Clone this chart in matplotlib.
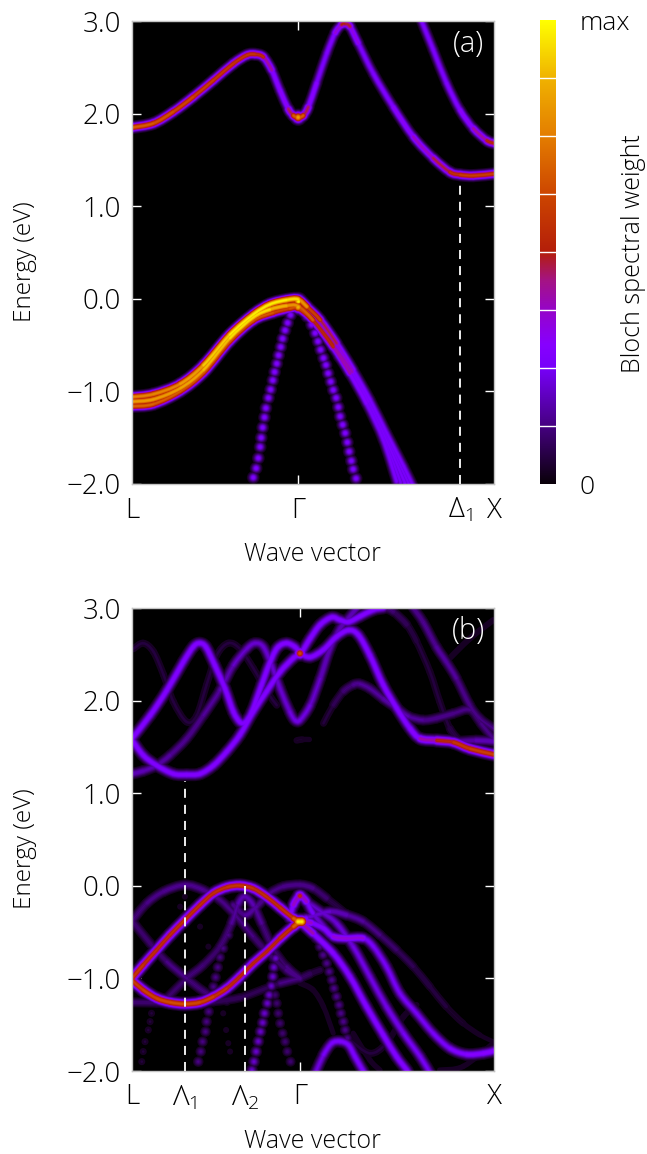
import numpy as np
import matplotlib
matplotlib.use('Agg')
import matplotlib.pyplot as plt
from matplotlib.collections import PathCollection
from matplotlib.colors import LinearSegmentedColormap
from matplotlib.path import Path

plt.rcParams['font.family'] = ['Open Sans', 'DejaVu Sans']
plt.rcParams['font.weight'] = 'light'
plt.rcParams['axes.labelweight'] = 'light'
plt.rcParams['mathtext.fontset'] = 'custom'
plt.rcParams['mathtext.rm'] = 'Open Sans:light'

# k is percent of the L-X path, e is energy in eV, w is spectral weight (0-1)
# panel (a)
a1_k = [0, 5.9, 11.4, 16.9, 22.5, 28.0, 31.7, 34.0, 36.3, 38.6, 40.9, 43.2, 44.6, 45.9, 47.3, 48.7, 51.0, 53.8, 56.1, 57.9, 58.8, 60.2, 62.5, 66.7, 72.2, 77.7, 83.2, 87.8, 90.6, 94.3, 100]
a1_e = [1.85, 1.895, 2.02, 2.18, 2.36, 2.54, 2.63, 2.64, 2.61, 2.47, 2.25, 2.05, 1.98, 1.96, 1.98, 2.07, 2.33, 2.65, 2.87, 2.96, 2.97, 2.94, 2.76, 2.43, 2.07, 1.75, 1.52, 1.37, 1.34, 1.33, 1.35]
a1_w = [.7, .68, .66, .62, .6, .58, .58, .6, .52, .34, .3, .36, .6, .78, .6, .36, .28, .28, .3, .45, .58, .42, .28, .28, .3, .36, .44, .54, .6, .62, .6]
a2_k = [80, 83.2, 86.9, 90.6, 94.3, 98, 100]
a2_e = [3.0, 2.69, 2.33, 2.04, 1.84, 1.71, 1.68]
a2_w = [.28, .28, .28, .3, .36, .5, .58]
v1_k = [0, 5.9, 13.3, 19.7, 27, 33.5, 38.1, 42.7, 45.9, 48.3, 52, 56.5, 61.1, 65.7, 70.3, 75, 77.7]
v1_e = [-1.06, -1.03, -.92, -.72, -.39, -.17, -.06, -.013, -.006, -.085, -.23, -.48, -.77, -1.09, -1.45, -1.81, -2.03]
v1_w = [.78, .78, .8, .9, .98, 1, 1, 1, .95, .7, .55, .42, .3, .28, .28, .28, .28]
v2_k = [0, 5.9, 13.3, 19.7, 27, 33.5, 38.1, 42.7, 45.9, 50, 55.6, 60.2, 64.8, 69.4, 73.1]
v2_e = [-1.11, -1.086, -.967, -.77, -.427, -.2, -.115, -.075, -.08, -.23, -.52, -.805, -1.13, -1.52, -1.97]
v2_w = [.85, .84, .84, .88, .95, 1, .95, .85, .8, .6, .5, .34, .28, .28, .28]
v3_k = [0, 5.9, 13.3, 19.7, 27, 33.5, 39, 43.6, 45.9, 50, 55.6, 60.8, 65.3, 69.9, 75.4]
v3_e = [-1.16, -1.137, -1.0, -.80, -.46, -.235, -.15, -.105, -.10, -.23, -.50, -.79, -1.11, -1.49, -1.99]
v3_w = [.72, .7, .68, .68, .7, .7, .66, .6, .75, .55, .5, .32, .28, .28, .28]
v4_k = [57, 60.7, 65, 69.6, 74.2]
v4_e = [-.62, -.8, -1.12, -1.505, -1.98]
v4_w = [.3, .28, .27, .27, .27]
v5_k = [58, 61.0, 65.5, 70.1, 76.5]
v5_e = [-.64, -.78, -1.10, -1.47, -2.0]
v5_w = [.3, .28, .27, .27, .27]
# dotted bands, one mark per k point
a_dots1_k = [33.5, 34.3, 34.9, 35.4, 35.7, 36.1, 36.6, 37.0, 37.7, 38.3, 38.9, 39.4, 40.0, 40.5, 41.1, 41.6, 42.3, 43.0, 43.8]
a_dots1_e = [-1.93, -1.83, -1.72, -1.60, -1.50, -1.39, -1.28, -1.18, -1.07, -.98, -.88, -.79, -.70, -.61, -.52, -.43, -.34, -.26, -.175]
a_dots2_k = [61.9, 61.1, 60.6, 60.0, 59.5, 58.9, 58.2, 57.5, 57.0, 56.4, 55.6, 54.9, 54.2, 53.6, 52.9, 52.1, 51.4, 50.6, 49.6, 48.3]
a_dots2_e = [-1.94, -1.84, -1.75, -1.65, -1.55, -1.45, -1.36, -1.27, -1.17, -1.07, -.985, -.895, -.805, -.715, -.64, -.55, -.46, -.37, -.28, -.19]
a_spots_k = [45.9, 45.9, 45.9]
a_spots_e = [1.96, -.02, -.09]
a_spots_w = [.85, 1.0, .9]

# panel (b), upper bands
b1_k = [0, 5.0, 9.6, 14.2, 16.9, 18.6, 20.4, 22.9, 25.7, 28.0, 29.8, 31.2, 33.1, 35.8, 38.6, 40.4, 42.7, 45.0, 46.6, 49.2, 52.9, 56.5, 59.8, 62.5, 65.7, 69.4, 73.1, 76.8, 79.6, 84.2, 88.8, 93.4, 99.8]
b1_e = [1.59, 1.84, 2.11, 2.42, 2.58, 2.62, 2.58, 2.38, 2.13, 1.88, 1.77, 1.765, 1.88, 2.17, 2.46, 2.58, 2.62, 2.58, 2.51, 2.47, 2.55, 2.69, 2.76, 2.71, 2.49, 2.17, 1.92, 1.70, 1.59, 1.57, 1.55, 1.48, 1.42]
b1_w = [.3] * 24 + [.3, .3, .3, .3, .34, .5, .58, .62, .62]
b2_k = [0, 3.1, 6.8, 11.4, 15.1, 18.8, 22.5, 26.2, 29.8, 33.5, 37.2, 40.9, 44.6, 46.6, 49.2, 52.0, 55.2, 57.5, 59.8, 63.0, 66.7, 69.4]
b2_e = [1.575, 1.41, 1.30, 1.21, 1.20, 1.21, 1.30, 1.45, 1.63, 1.88, 2.10, 2.31, 2.46, 2.51, 2.67, 2.82, 2.90, 2.87, 2.85, 2.91, 2.98, 3.0]
b2_w = [.3] * 22
b3_k = [0, 3.1, 6.8, 10.5, 15.1, 19.7, 24.3, 28.0, 31.7, 34.0, 36.3, 38.6, 40.9, 43.6, 45.0, 46.4, 49.2, 52.0, 54.7, 57.5, 59.8, 62.1]
b3_e = [1.21, 1.24, 1.30, 1.41, 1.59, 1.84, 2.11, 2.38, 2.56, 2.62, 2.58, 2.38, 2.13, 1.88, 1.79, 1.79, 1.95, 2.24, 2.56, 2.78, 2.89, 3.0]
b3_w = [.2, .2, .18, .16, .15, .15, .17, .2, .22, .22, .22, .22, .22, .22, .25, .25, .22, .2, .2, .2, .2, .2]
b4_k = [.4, 3.1, 5.9, 8.7, 11.4, 15.1, 17.9, 20.6, 23.4, 26.6, 29.8, 33.5, 37.2, 40]
b4_e = [2.56, 2.62, 2.53, 2.28, 1.99, 1.77, 1.84, 2.17, 2.49, 2.62, 2.56, 2.35, 2.10, 1.95]
b4_w = [.06] * 14
b5_k = [77.7, 80.4, 84.1, 86.8, 89.6, 93.3, 96.0, 99.8]
b5_e = [3.0, 2.85, 2.58, 2.42, 2.24, 1.95, 1.81, 1.70]
b5_w = [.15, .15, .16, .18, .15, .14, .14, .13]
b6_k = [70, 72.2, 75.9, 78.6, 82.3, 85, 87.8, 90.6]
b6_e = [3.0, 2.96, 2.82, 2.64, 2.31, 1.99, 1.70, 1.56]
b6_w = [.14, .12, .08, .06, .06, .06, .06, .1]
b7_k = [52.9, 55.6, 58.4, 61.1, 62.9, 65.7, 69.4, 73.1, 76.3, 80.4, 84.1, 88.7, 93.3, 96.5, 99.8]
b7_e = [1.755, 1.95, 2.10, 2.17, 2.18, 2.13, 2.02, 1.92, 1.83, 1.79, 1.81, 1.86, 1.90, 1.75, 1.59]
b7_w = [.05, .07, .11, .15, .16, .16, .16, .2, .17, .15, .15, .15, .13, .13, .15]
b8_k = [86.8, 93.3, 99.8]
b8_e = [2.42, 2.67, 2.87]
b8_w = [.05, .05, .05]
b9_k = [84.2, 90, 95, 99.8]
b9_e = [1.57, 1.56, 1.57, 1.56]
b9_w = [.12, .15, .2, .2]
b10_k = [45.5, 47, 49]
b10_e = [1.57, 1.58, 1.58]
b10_w = [.05, .06, .03]

# panel (b), lower bands
c1_k = [0, 3.1, 6.8, 10.5, 14.6, 18.8, 22.5, 26.2, 29.8, 33.5, 37.2, 40.9, 44.6, 46.4]
c1_e = [-1.0, -.855, -.693, -.531, -.369, -.207, -.081, -.016, .002, -.03, -.12, -.235, -.351, -.387]
c1_w = [.6, .58, .55, .56, .56, .56, .56, .58, .6, .58, .56, .56, .6, .8]
c2_k = [0, 3.1, 6.8, 10.5, 14.6, 18.8, 22.5, 26.2, 29.8, 33.5, 37.2, 40.9, 44.6, 46.4]
c2_e = [-1.02, -1.125, -1.215, -1.258, -1.276, -1.258, -1.197, -1.107, -.981, -.837, -.711, -.567, -.441, -.387]
c2_w = [.6, .62, .64, .66, .66, .64, .6, .56, .54, .54, .54, .54, .6, .8]
c3_k = [.2, 4.1, 8.7, 14.6, 19.7, 24.3, 28.9, 33.5, 38.1, 42.7, 46.4]
c3_e = [-.369, -.189, -.063, .009, -.045, -.153, -.333, -.549, -.747, -.909, -1.0]
c3_w = [.12, .14, .15, .16, .15, .14, .14, .13, .12, .12, .18]
c4_k = [.2, 5, 9.6, 15.1, 20.6, 26.2]
c4_e = [-.387, -.621, -.819, -1.0, -1.16, -1.25]
c4_w = [.12, .12, .12, .16, .1, .07]
c5_k = [0, 6.8, 14.6, 22.5, 29.8, 36.3, 40.9, 46.4]
c5_e = [-1.258, -1.262, -1.262, -1.25, -1.208, -1.118, -1.053, -1.0]
c5_w = [.12, .12, .12, .11, .09, .09, .09, .18]
c6_k = [9.6, 15.1, 19.7, 24.3, 27.5, 29.4, 31.2, 33.5, 35.8, 39, 42.7, 46.4]
c6_e = [-1.215, -1.0, -.855, -.657, -.405, -.189, -.117, -.207, -.405, -.675, -.873, -1.0]
c6_w = [.09, .14, .12, .12, .14, .18, .2, .18, .14, .12, .1, .18]
c7_k = [28, 31.2, 34.4, 38.1, 41.8, 46.4, 50, 53.8, 58.4]
c7_e = [-.207, -.315, -.225, -.081, -.009, .01, -.027, -.135, -.279]
c7_w = [.12, .18, .16, .14, .14, .16, .14, .1, .06]
c8_k = [43.6, 44.6, 46.4, 48.2, 50, 52.9]
c8_e = [-.35, -.207, -.11, -.171, -.297, -.441]
c8_w = [.3, .3, .5, .3, .25, .2]
d1_k = [46.4, 49.5, 52.9, 55.6, 59.3, 63.9, 66.7, 70.3, 74, 78.6, 83.2, 87.8, 92.4, 97, 99.8]
d1_e = [-.387, -.40, -.459, -.549, -.567, -.567, -.657, -.873, -1.161, -1.377, -1.593, -1.755, -1.82, -1.809, -1.784]
d1_w = [.5, .3, .3, .3, .45, .28, .26, .26, .26, .26, .26, .28, .3, .32, .32]
d2_k = [46.4, 50, 55.6, 60.2, 64.8, 69.4, 73.1, 75.9, 76.3]
d2_e = [-.387, -.513, -.729, -.981, -1.305, -1.611, -1.845, -1.99, -2.03]
d2_w = [.5, .33, .3, .3, .3, .3, .3, .3, .3]
d3_k = [48.2, 52.9, 56.5, 61.1, 65.7, 70.3, 75, 79.6, 82.3]
d3_e = [-.171, -.297, -.405, -.657, -.981, -1.305, -1.593, -1.845, -2.02]
d3_w = [.2, .22, .22, .24, .24, .24, .26, .26, .26]
d4_k = [46.4, 48.1, 54.7, 59.3, 63.9, 68.5, 73.1, 77.7, 82.3, 86.8, 91.5, 96.1, 99.8]
d4_e = [-.387, -.35, -.279, -.315, -.387, -.531, -.693, -.873, -1.089, -1.305, -1.485, -1.611, -1.683]
d4_w = [.4, .22, .22, .18, .15, .13, .1, .08, .07, .06, .05, .04, .04]
e1_k = [50.5, 51, 52.9, 55.2, 57.5, 59.8, 61.6, 63.7, 64.2]
e1_e = [-2.03, -1.99, -1.827, -1.7, -1.68, -1.72, -1.845, -1.99, -2.03]
e1_w = [.22, .22, .25, .28, .28, .28, .28, .28, .28]
f1_k = [46.4, 50, 52.9, 55.6]
f1_e = [-1.05, -1.125, -1.305, -1.593]
f1_w = [.05, .045, .045, .04]
f2_k = [46.4, 49.2, 52]
f2_e = [-1.0, -.95, -.91]
f2_w = [.12, .09, .06]
f3_k = [60.2, 65.7, 70.3, 75, 78.6]
f3_e = [-1.665, -1.809, -1.7, -1.413, -1.287]
f3_w = [.05, .07, .05, .05, .05]
f4_k = [61.1, 65.7, 68.5]
f4_e = [-1.593, -1.88, -1.99]
f4_w = [.045, .045, .045]
f5_k = [85, 91.5, 99.8]
f5_e = [-1.99, -1.95, -1.7]
f5_w = [.045, .045, .045]

b_dots1_k = [33.1, 33.7, 34.3, 34.9, 35.5, 36.1, 36.6, 37.4, 37.9, 38.5, 38.9, 39.2, 39.7]
b_dots1_e = [-1.99, -1.899, -1.79, -1.68, -1.575, -1.478, -1.377, -1.269, -1.179, -1.082, -.981, -.88, -.783]
b_dots2_k = [18.3, 19, 19.5, 20.3, 20.6, 21.2, 22.5, 23.1, 23.7, 24.3, 25.2, 26.6]
b_dots2_e = [-1.899, -1.79, -1.683, -1.575, -1.467, -1.359, -1.089, -.988, -.88, -.772, -.675, -.531]
b_dots3_k = [43.8, 42.9, 42.3, 41.6, 40.9, 40.4, 40, 39.5]
b_dots3_e = [-1.899, -1.79, -1.683, -1.593, -1.485, -1.377, -1.269, -1.179]
b_dots4_k = [49.6, 50.8, 51.9, 52.8, 53.8, 54.5, 55.2, 55.8, 56.5, 57.2, 57.7, 58.4, 58.9, 59.5]
b_dots4_e = [-.477, -.567, -.657, -.747, -.837, -.927, -1.017, -1.107, -1.197, -1.287, -1.377, -1.467, -1.557, -1.647]
b_dots5_k = [2.7, 3.1, 3.6, 4.5, 5, 5.4]
b_dots5_e = [-1.899, -1.79, -1.683, -1.557, -1.467, -1.377]
b_dots6_k = [25.2, 26, 26.6, 27.1]
b_dots6_e = [-1.377, -1.557, -1.7, -1.79]
b_dots7_k = [11.4, 13.3, 14.6, 16.9, 18.8, 21.1]
b_dots7_e = [-.477, -.225, -.117, -.225, -.441, -.657]
b_spots_k = [46.4, 45.9, 46.4, 46.9, 46.4]
b_spots_e = [2.51, -.387, -.387, -.387, -.11]
b_spots_w = [.66, 1.0, 1.0, 1.0, .55]

cmap_pos = [0, .125, .25, .3, .375, .44, .5, .625, .75, .875, 1]
cmap_rgb = [(10, 0, 10), (70, 0, 130), (120, 0, 250), (135, 0, 255), (150, 5, 200), (165, 20, 130),
            (180, 30, 10), (205, 70, 0), (228, 125, 0), (240, 178, 0), (255, 255, 0)]
spectral = LinearSegmentedColormap.from_list(
    'spectral', [(p, tuple(c / 255 for c in rgb)) for p, rgb in zip(cmap_pos, cmap_rgb)])

levels = np.linspace(.03, 1, 40)
PX = 0.72  # points per pixel at dpi 100


def half_width(weight, level, sigma):
    return sigma * np.sqrt(2 * np.log(weight / level))


def band_segments(k, e, w):
    # one bezier per pair of read points, so widths and colours can change along the band
    pts = np.column_stack([k, e])
    n = len(pts)
    segs = []
    for i in range(n - 1):
        p0, p1, p2, p3 = pts[max(i - 1, 0)], pts[i], pts[i + 1], pts[min(i + 2, n - 1)]
        c1 = p1 + (p2 - p0) / 6
        c2 = p2 - (p3 - p1) / 6
        path = Path([p1, c1, c2, p2], [Path.MOVETO, Path.CURVE4, Path.CURVE4, Path.CURVE4])
        segs.append((path, (w[i] + w[i + 1]) / 2))
    return segs


def draw_weight(ax, bands, dots, spots, sigma):
    # painted from faint to strong so the brightest value wins at every pixel
    segs = []
    for k, e, w in bands:
        segs += band_segments(k, e, w)
    marks = [(k, e, w, 3.0) for k, e, w in dots] + [(spots[0], spots[1], spots[2], 3.4)]
    for z, level in enumerate(levels):
        color = spectral(level)
        paths = [p for p, w in segs if w > level]
        widths = [2 * half_width(w, level, sigma) * PX for p, w in segs if w > level]
        if paths:
            coll = PathCollection(paths, facecolors='none', edgecolors=[color], linewidths=widths,
                                  capstyle='round', transform=ax.transData, zorder=2 + z * .01)
            ax.add_collection(coll, autolim=False)
        for k, e, w, s in marks:
            k, e, w = np.asarray(k), np.asarray(e), np.asarray(w)
            on = w > level
            if on.any():
                sizes = (2 * half_width(w[on], level, s) * PX) ** 2
                ax.scatter(k[on], e[on], s=sizes, color=[color], linewidths=0, zorder=2 + z * .01 + .001)


def setup_axes(ax, ticks, labels, gamma, label):
    ax.set_facecolor('black')
    ax.set_xlim(0, 100)
    ax.set_ylim(-2, 3)
    ax.set_yticks([-2, -1, 0, 1, 2, 3])
    ax.set_yticklabels(['\u22122.0', '\u22121.0', '0.0', '1.0', '2.0', '3.0'], fontsize=20)
    ax.set_xticks(ticks)
    ax.set_xticklabels(labels, fontsize=20)
    ax.tick_params(axis='y', direction='in', color='white', length=6.5, width=1, left=True, right=True, pad=8)
    ax.tick_params(axis='x', direction='in', color='white', length=6.5, width=1, top=True, bottom=True, pad=9)
    for t, pos in zip(ax.xaxis.get_major_ticks(), ticks):
        t.tick1line.set_visible(pos == gamma)
        t.tick2line.set_visible(pos == gamma)
    for s in ax.spines.values():
        s.set_color('#c4c4c4')
        s.set_linewidth(1)
    ax.set_xlabel('Wave vector', fontsize=18, va='center')
    ax.xaxis.set_label_coords(.5, -.153)
    ax.set_ylabel('Energy (eV)', fontsize=17.5, va='center')
    ax.yaxis.set_label_coords(-.295, .48)
    ax.text(.93, .95, label, transform=ax.transAxes, color='white', fontsize=21, ha='center', va='center', zorder=10)


def dashed(ax, k, top):
    ax.plot([k, k], [-2, top], color='white', lw=1.3, dashes=(5, 3.9), zorder=8)


fig = plt.figure(figsize=(6.47, 11.54), dpi=100)
ax_a = fig.add_axes([132 / 647, 1 - 484 / 1154, 362 / 647, 463 / 1154])
ax_b = fig.add_axes([132 / 647, 1 - 1071 / 1154, 362 / 647, 463 / 1154])

setup_axes(ax_a, [0, 45.9, 90.6, 100], ['L', '\u0393', '$\\mathregular{\u0394_1}$', 'X'], 45.9, '(a)')
draw_weight(ax_a,
            [(a1_k, a1_e, a1_w), (a2_k, a2_e, a2_w), (v3_k, v3_e, v3_w), (v2_k, v2_e, v2_w), (v1_k, v1_e, v1_w),
             (v4_k, v4_e, v4_w), (v5_k, v5_e, v5_w)],
            [(a_dots1_k, a_dots1_e, [.3] * len(a_dots1_k)), (a_dots2_k, a_dots2_e, [.3] * len(a_dots2_k))],
            (a_spots_k, a_spots_e, a_spots_w),
            2.7)
dashed(ax_a, 90.6, 1.28)

setup_axes(ax_b, [0, 14.6, 31.2, 46.4, 100],
           ['L', '$\\mathregular{\u039b_1}$', '$\\mathregular{\u039b_2}$', '\u0393', 'X'], 46.4, '(b)')
draw_weight(ax_b,
            [(b1_k, b1_e, b1_w), (b2_k, b2_e, b2_w), (b3_k, b3_e, b3_w), (b4_k, b4_e, b4_w), (b5_k, b5_e, b5_w),
             (b6_k, b6_e, b6_w), (b7_k, b7_e, b7_w), (b8_k, b8_e, b8_w), (b9_k, b9_e, b9_w), (b10_k, b10_e, b10_w),
             (c1_k, c1_e, c1_w), (c2_k, c2_e, c2_w), (c3_k, c3_e, c3_w), (c4_k, c4_e, c4_w), (c5_k, c5_e, c5_w),
             (c6_k, c6_e, c6_w), (c7_k, c7_e, c7_w), (c8_k, c8_e, c8_w), (d1_k, d1_e, d1_w), (d2_k, d2_e, d2_w),
             (d3_k, d3_e, d3_w), (d4_k, d4_e, d4_w), (e1_k, e1_e, e1_w), (f1_k, f1_e, f1_w), (f2_k, f2_e, f2_w),
             (f3_k, f3_e, f3_w), (f4_k, f4_e, f4_w), (f5_k, f5_e, f5_w)],
            [(b_dots1_k, b_dots1_e, [.22] * len(b_dots1_k)), (b_dots2_k, b_dots2_e, [.14] * len(b_dots2_k)),
             (b_dots3_k, b_dots3_e, [.12] * len(b_dots3_k)), (b_dots4_k, b_dots4_e, [.15] * len(b_dots4_k)),
             (b_dots5_k, b_dots5_e, [.06] * len(b_dots5_k)), (b_dots6_k, b_dots6_e, [.05] * len(b_dots6_k)),
             (b_dots7_k, b_dots7_e, [.05] * len(b_dots7_k))],
            (b_spots_k, b_spots_e, b_spots_w),
            3.0)
dashed(ax_b, 14.6, 1.13)
dashed(ax_b, 31.2, .0)

# colour bar with white separators every eighth
cax = fig.add_axes([540 / 647, 1 - 484 / 1154, 16 / 647, 464 / 1154])
cax.imshow(np.linspace(1, 0, 256).reshape(-1, 1), cmap=spectral, vmin=0, vmax=1, aspect='auto', extent=[0, 1, 0, 1])
for y in np.arange(1, 8) / 8:
    cax.axhline(y, color='white', lw=1)
cax.set_xticks([])
cax.yaxis.tick_right()
cax.set_yticks([0, 1])
cax.set_yticklabels(['0', 'max'], fontsize=19)
cax.tick_params(axis='y', length=0, pad=17)
for s in cax.spines.values():
    s.set_visible(False)
cax.yaxis.set_label_position('right')
cax.set_ylabel('Bloch spectral weight', fontsize=18, rotation=90, va='center')
cax.yaxis.set_label_coords(5.85, .497)

fig.savefig('out.png', dpi=100)
plt.close(fig)
